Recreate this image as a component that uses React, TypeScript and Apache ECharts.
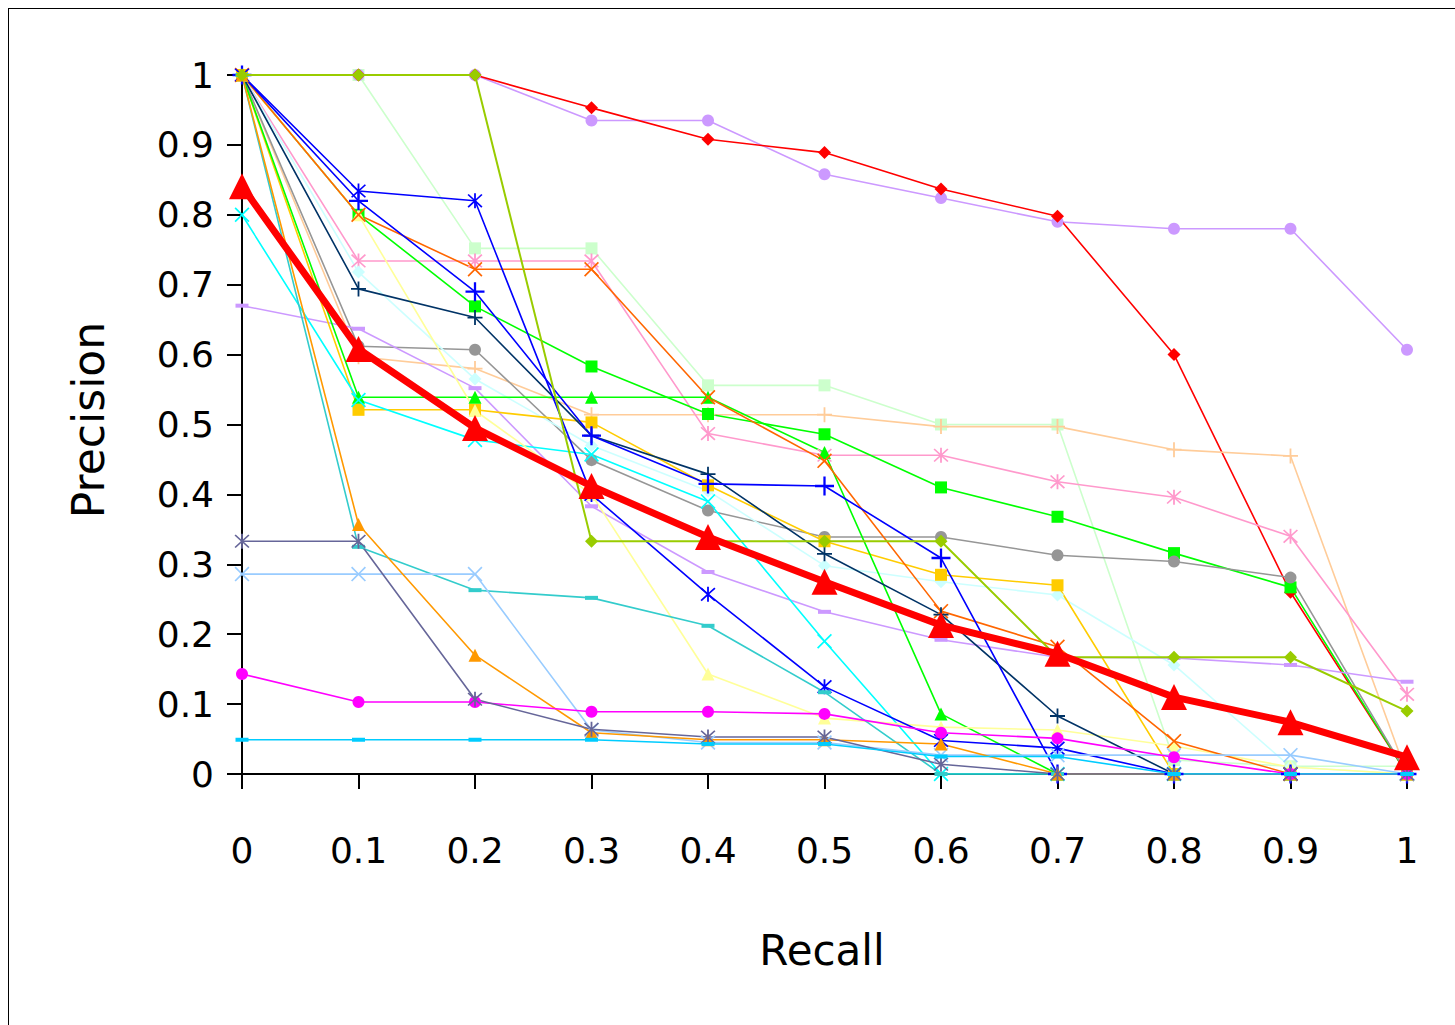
import React, { useEffect, useRef } from "react";
import * as echarts from "echarts";

const recall = [0, 0.1, 0.2, 0.3, 0.4, 0.5, 0.6, 0.7, 0.8, 0.9, 1];
const yTicks = [0, 0.1, 0.2, 0.3, 0.4, 0.5, 0.6, 0.7, 0.8, 0.9, 1];

const redDiamond = [1, 1, 1, 0.953, 0.908, 0.889, 0.837, 0.798, 0.6, 0.26, 0];
const lavCircle = [1, 1, 1, 0.935, 0.935, 0.858, 0.824, 0.79, 0.78, 0.78, 0.607];
const lightGreenSq = [1, 1, 0.752, 0.752, 0.556, 0.556, 0.5, 0.5, 0.02, 0.011, 0.011];
const oliveDiamond = [1, 1, 1, 0.333, 0.333, 0.333, 0.333, 0.167, 0.167, 0.167, 0.09];
const blueStar = [1, 0.834, 0.82, 0.4, 0.257, 0.125, 0.048, 0.037, 0, 0, 0];
const bluePlus = [1, 0.82, 0.69, 0.484, 0.415, 0.412, 0.309, 0, 0, 0, 0];
const navyPlus = [1, 0.694, 0.653, 0.484, 0.429, 0.315, 0.228, 0.083, 0, 0, 0];
const orangeX = [1, 0.8, 0.722, 0.722, 0.539, 0.448, 0.233, 0.182, 0.047, 0, 0];
const pinkStar = [1, 0.734, 0.734, 0.734, 0.487, 0.456, 0.456, 0.418, 0.396, 0.34, 0.114];
const greenSq = [1, 0.8, 0.669, 0.583, 0.515, 0.486, 0.41, 0.368, 0.316, 0.267, 0];
const greenTri = [1, 0.539, 0.539, 0.539, 0.539, 0.46, 0.086, 0, 0, 0, 0];
const goldSq = [1, 0.521, 0.521, 0.503, 0.413, 0.333, 0.285, 0.27, 0, 0, 0];
const grayCircle = [1, 0.612, 0.607, 0.449, 0.377, 0.339, 0.339, 0.313, 0.304, 0.281, 0];
const peachPlus = [1, 0.597, 0.58, 0.514, 0.514, 0.514, 0.497, 0.497, 0.464, 0.455, 0];
const lightCyanDiamond = [1, 0.718, 0.565, 0.47, 0.405, 0.298, 0.275, 0.256, 0.156, 0.01, 0];
const cyanX = [0.8, 0.535, 0.478, 0.457, 0.39, 0.19, 0, 0, 0, 0, 0];
const lavDash = [0.67, 0.637, 0.552, 0.383, 0.289, 0.232, 0.192, 0.167, 0.166, 0.156, 0.132];
const paleYellowTri = [1, 0.8, 0.52, 0.4, 0.143, 0.08, 0.067, 0.063, 0.04, 0.01, 0];
const orangeTri = [1, 0.357, 0.17, 0.059, 0.049, 0.049, 0.043, 0, 0, 0, 0];
const tealDash = [1, 0.325, 0.263, 0.252, 0.212, 0.117, 0, 0, 0, 0, 0];
const slateStar = [0.333, 0.333, 0.107, 0.064, 0.053, 0.053, 0.014, 0, 0, 0, 0];
const lightBlueX = [0.286, 0.286, 0.286, 0.063, 0.045, 0.045, 0.027, 0.027, 0.027, 0.027, 0];
const magentaCircle = [0.143, 0.103, 0.103, 0.089, 0.089, 0.086, 0.059, 0.051, 0.024, 0, 0];
const skyDash = [0.049, 0.049, 0.049, 0.049, 0.043, 0.043, 0.025, 0.025, 0, 0, 0];
const average = [0.841, 0.608, 0.495, 0.412, 0.339, 0.275, 0.213, 0.172, 0.11, 0.074, 0.024];

const PLUS = "path://M-0.6,-5H0.6V-0.6H5V0.6H0.6V5H-0.6V0.6H-5V-0.6H-0.6Z";
const XMARK =
  "path://M-5,-4.2L-4.2,-5L0,-0.8L4.2,-5L5,-4.2L0.8,0L5,4.2L4.2,5L0,0.8L-4.2,5L-5,4.2L-0.8,0Z";
const STAR =
  "path://M-5,-4.2L-4.2,-5L0,-0.8L4.2,-5L5,-4.2L0.8,0L5,4.2L4.2,5L0,0.8L-4.2,5L-5,4.2L-0.8,0ZM-0.6,-5.5L0.6,-5.5L0.6,5.5L-0.6,5.5Z";

const FONT = "DejaVu Sans";

function mk(
  name: string,
  data: number[],
  color: string,
  symbol: string,
  symbolSize: number | number[],
  width = 1.6,
  z = 2
) {
  return {
    name,
    type: "line",
    data: recall.map((x, i) => [x, data[i]]),
    symbol,
    symbolSize,
    showSymbol: true,
    z,
    lineStyle: { color, width },
    itemStyle: { color, borderWidth: 0 },
    emphasis: { disabled: true },
  };
}

export default function App() {
  const ref = useRef<HTMLDivElement>(null);
  useEffect(() => {
    if (!ref.current) return;
    const chart = echarts.init(ref.current, null, { renderer: "svg" });
    const series = [
      mk("S1", lightGreenSq, "#ccffcc", "rect", 12),
      mk("S2", lavCircle, "#cc99ff", "circle", 12),
      mk("S3", redDiamond, "#ff0000", "diamond", 13),
      mk("S5", peachPlus, "#ffcc99", PLUS, 15),
      mk("S6", pinkStar, "#ff99cc", STAR, 15),
      mk("S7", greenSq, "#00ff00", "rect", 12),
      mk("S8", grayCircle, "#969696", "circle", 12),
      mk("S9", lightCyanDiamond, "#ccffff", "diamond", 13),
      mk("S10", lavDash, "#cc99ff", "rect", [13, 4]),
      mk("S11", goldSq, "#ffcc00", "rect", 12),
      mk("S12", greenTri, "#00ff00", "triangle", 13),
      mk("S13", cyanX, "#00ffff", XMARK, 15),
      mk("S14", paleYellowTri, "#ffff99", "triangle", 13),
      mk("S15", orangeX, "#ff6600", XMARK, 15),
      mk("S16", navyPlus, "#003366", PLUS, 15),
      mk("S17", bluePlus, "#0000ff", PLUS, 19),
      mk("S18", blueStar, "#0000ff", STAR, 15),
      mk("S19", tealDash, "#33cccc", "rect", [13, 4]),
      mk("S20", lightBlueX, "#99ccff", XMARK, 15),
      mk("S21", orangeTri, "#ff9900", "triangle", 13),
      mk("S22", magentaCircle, "#ff00ff", "circle", 12),
      mk("S23", slateStar, "#666699", STAR, 15),
      mk("S24", skyDash, "#00ccff", "rect", [13, 4]),
      mk("S4", oliveDiamond, "#99cc00", "diamond", 13, 2, 3),
      mk("Average", average, "#ff0000", "triangle", 26, 7, 5),
    ];
    chart.setOption({
      animation: false,
      backgroundColor: "#ffffff",
      grid: { left: 233, right: 48, top: 66, bottom: 251, containLabel: false },
      xAxis: {
        type: "value",
        min: 0,
        max: 1,
        interval: 0.1,
        splitLine: { show: false },
        axisLine: { show: true, onZero: false, lineStyle: { color: "#000", width: 2 } },
        axisTick: { show: true, length: 15, lineStyle: { color: "#000", width: 2 } },
        axisLabel: {
          fontSize: 36,
          color: "#000",
          fontFamily: FONT,
          margin: 58,
          formatter: (v: number) => String(Math.round(v * 10) / 10),
        },
      },
      yAxis: {
        type: "value",
        min: 0,
        max: 1,
        interval: 0.1,
        splitLine: { show: false },
        axisLine: { show: true, lineStyle: { color: "#000", width: 2 } },
        axisTick: { show: true, length: 15, lineStyle: { color: "#000", width: 2 } },
        axisLabel: {
          fontSize: 36,
          color: "#000",
          fontFamily: FONT,
          margin: 28,
          formatter: (v: number) => {
            const r = Math.round(v * 10) / 10;
            return yTicks.includes(r) ? String(r) : "";
          },
        },
      },
      graphic: [
        {
          type: "text",
          x: 813,
          y: 941,
          style: {
            text: "Recall",
            font: `42px "${FONT}"`,
            fill: "#000",
            textAlign: "center",
            textVerticalAlign: "middle",
          },
        },
        {
          type: "text",
          x: 79,
          y: 411,
          rotation: Math.PI / 2,
          style: {
            text: "Precision",
            font: `44px "${FONT}"`,
            fill: "#000",
            textAlign: "center",
            textVerticalAlign: "middle",
          },
        },
      ],
      series,
    });
    return () => chart.dispose();
  }, []);
  return (
    <div
      style={{
        position: "absolute",
        left: 8,
        top: 8,
        width: 1447,
        height: 1017,
        borderLeft: "1px solid #000",
        borderTop: "1px solid #000",
        boxSizing: "border-box",
        background: "#fff",
      }}
    >
      <div ref={ref} style={{ width: 1446, height: 1016 }} />
    </div>
  );
}
